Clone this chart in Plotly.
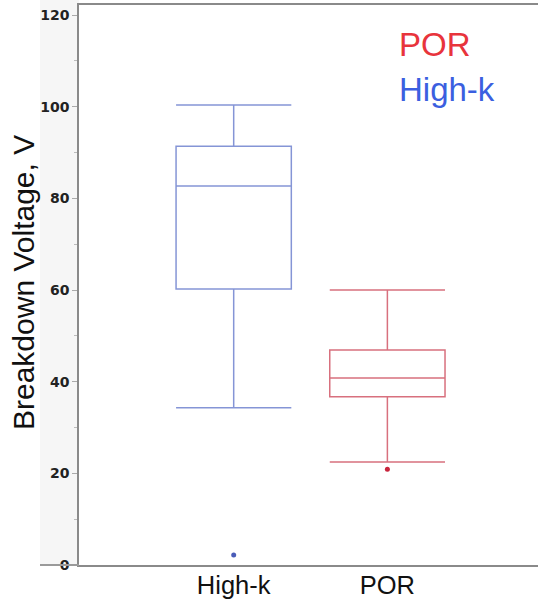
import plotly.graph_objects as go

groups = ["High-k", "POR"]
q1 = [60.2, 36.7]
median = [82.7, 40.8]
q3 = [91.4, 46.9]
lower_whisker = [34.3, 22.5]
upper_whisker = [100.4, 60.0]
outliers = [[2.2], [20.9]]

line_colors = ["#8595d6", "#d8707e"]
point_colors = ["#4a5cb8", "#c8243c"]
legend_labels = ["POR", "High-k"]
legend_colors = ["#e8343c", "#3b5fe0"]
y_ticks = [0, 20, 40, 60, 80, 100, 120]

fig = go.Figure()
for i, g in enumerate(groups):
    fig.add_trace(go.Box(
        x=[g], q1=[q1[i]], median=[median[i]], q3=[q3[i]],
        lowerfence=[lower_whisker[i]], upperfence=[upper_whisker[i]],
        width=0.75, whiskerwidth=1,
        line=dict(color=line_colors[i], width=1.5),
        fillcolor="rgba(0,0,0,0)", boxpoints=False, showlegend=False,
    ))
    fig.add_trace(go.Scatter(
        x=[g] * len(outliers[i]), y=outliers[i], mode="markers",
        marker=dict(color=point_colors[i], size=5), showlegend=False,
    ))

L, R, T, B = 79, 1, 5, 34
W, H = 539, 599
pw = W - L - R
ph = H - T - B

fig.update_layout(
    width=W, height=H,
    margin=dict(l=L, r=R, t=T, b=B, autoexpand=False),
    plot_bgcolor="white", paper_bgcolor="white",
    xaxis=dict(
        type="category", range=[-1.0065, 1.98],
        showline=True, linecolor="#8a8a8a", linewidth=2, mirror=True,
        ticks="", showgrid=False, zeroline=False, automargin=False,
        ticklabelstandoff=-4,
        tickfont=dict(family="Liberation Sans, Arial", size=25.5, color="#111"),
    ),
    yaxis=dict(
        range=[0, 122.2], tickvals=y_ticks,
        showline=True, linecolor="#8a8a8a", linewidth=1.5, automargin=False,
        ticks="outside", ticklen=5, tickcolor="#aaaaaa", tickwidth=1,
        minor=dict(dtick=10, ticks="outside", ticklen=3, tickcolor="#bbbbbb"),
        showgrid=False, zeroline=False,
        tickfont=dict(family="DejaVu Sans", size=14, color="#222", weight="bold"),
    ),
    shapes=[
        dict(type="rect", xref="paper", yref="paper",
             x0=(40 - L) / pw, x1=0, y0=0, y1=(H - B) / ph,
             fillcolor="#f6f6f6", line=dict(width=0), layer="below"),
        dict(type="line", xref="paper", yref="paper",
             x0=(40 - L) / pw, x1=0, y0=0, y1=0,
             line=dict(color="#9a9a9a", width=2)),
    ],
    annotations=[
        dict(text="Breakdown Voltage, V", textangle=-90, xref="paper", yref="paper",
             x=(23 - L) / pw, y=(H - B - 283) / ph, xanchor="center", yanchor="middle",
             showarrow=False,
             font=dict(family="Liberation Sans, Arial", size=30, color="#111")),
        dict(text=legend_labels[0], xref="paper", yref="paper",
             x=(397 - L) / pw, y=(H - B - 45) / ph, xanchor="left", yanchor="middle",
             showarrow=False,
             font=dict(family="Liberation Sans, Arial", size=33, color=legend_colors[0])),
        dict(text=legend_labels[1], xref="paper", yref="paper",
             x=(397 - L) / pw, y=(H - B - 89) / ph, xanchor="left", yanchor="middle",
             showarrow=False,
             font=dict(family="Liberation Sans, Arial", size=33, color=legend_colors[1])),
    ],
)

fig.write_html("out.html", config={"displayModeBar": False},
               post_script="document.body.style.margin='0';document.body.style.overflow='hidden';")
